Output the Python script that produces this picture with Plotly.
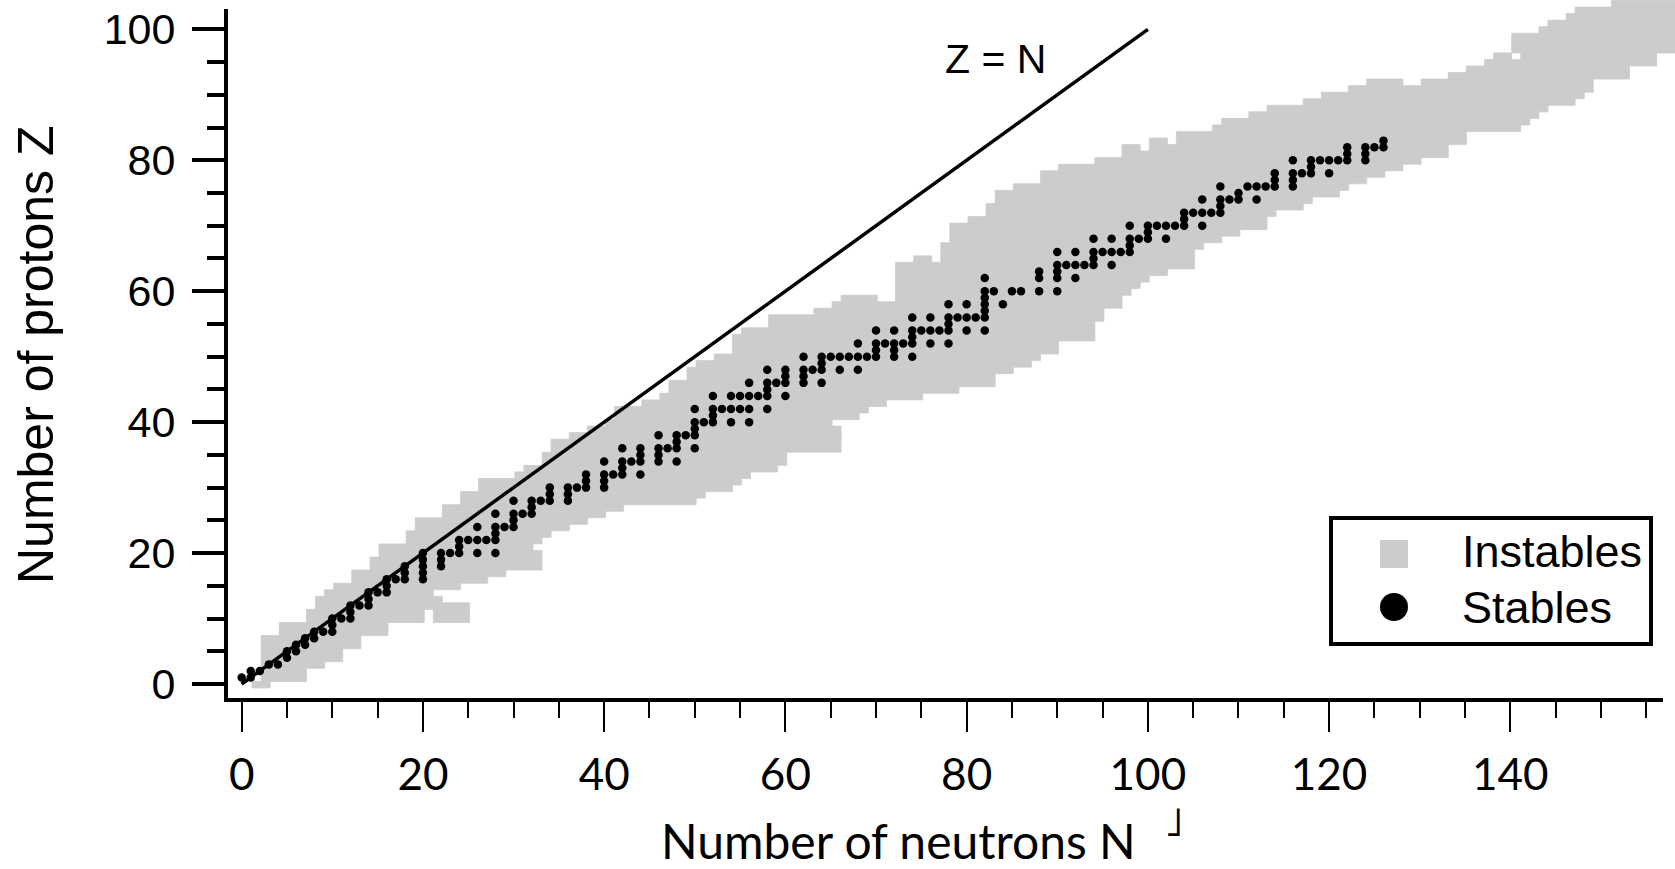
import plotly.graph_objects as go

# ---------------- data ----------------
# Grey band (unstable nuclides): one row per proton number Z,
# left / right edge of the row in neutron number N.
band_Z = list(range(0, 105))
band_N_left = [1, 2, 2, 2, 2, 2, 2, 2, 4, 4,
               7, 7, 8, 8, 9, 10, 12, 12, 14, 14,
               15, 15, 18, 18, 19, 19, 22, 22, 24, 24,
               26, 26, 30, 31, 33, 33, 34, 34, 36, 38,
               40, 41, 41, 44, 46, 47, 47, 49, 49, 50,
               52, 54, 54, 54, 55, 58, 58, 63, 65, 66,
               72, 72, 72, 72, 72, 74, 77, 77, 78, 78,
               78, 80, 82, 82, 83, 83, 85, 88, 88, 90,
               94, 97, 97, 100, 103, 107, 108, 111, 113, 117,
               119, 122, 124, 133, 135, 137, 138, 140, 140, 140,
               143, 144, 146, 147, 151]
band_N_right = [3, 7, 7, 9, 11, 11, 13, 13, 16, 16,
                25, 25, 25, 22, 21, 24, 27, 29, 33, 33,
                33, 32, 33, 34, 36, 38, 40, 42, 50, 51,
                54, 55, 56, 59, 60, 60, 66, 66, 66, 66,
                65, 68, 69, 71, 75, 79, 83, 83, 85, 87,
                88, 90, 90, 94, 94, 94, 95, 95, 97, 97,
                98, 99, 100, 102, 105, 105, 105, 106, 108, 110,
                113, 113, 114, 117, 118, 121, 122, 124, 126, 128,
                130, 133, 133, 135, 135, 141, 142, 143, 144, 147,
                148, 149, 149, 153, 153, 156, 156, 160, 160, 160,
                160, 160, 160, 160, 160]
# White holes inside some rows
gap_Z = [10, 11, 59, 65, 82, 83, 92, 96]
gap_N_from = [20, 20, 70, 76, 99, 102, 128, 140]
gap_N_to = [21, 21, 72, 77, 100, 103, 130, 141]

# Stable nuclides: for each Z, the stable neutron numbers
stable_Z = [1, 2, 3, 4, 5, 6, 7, 8, 9, 10,
            11, 12, 13, 14, 15, 16, 17, 18, 19, 20,
            21, 22, 23, 24, 25, 26, 27, 28, 29, 30,
            31, 32, 33, 34, 35, 36, 37, 38, 39, 40,
            41, 42, 44, 45, 46, 47, 48, 49, 50, 51,
            52, 53, 54, 55, 56, 57, 58, 59, 60, 62,
            63, 64, 65, 66, 67, 68, 69, 70, 71, 72,
            73, 74, 75, 76, 77, 78, 79, 80, 81, 82, 83]
stable_N_lists = [[0, 1], [1, 2], [3, 4], [5], [5, 6], [6, 7], [7, 8], [8, 9, 10], [10], [10, 11, 12],
                  [12], [12, 13, 14], [14], [14, 15, 16], [16], [16, 17, 18, 20], [18, 20], [18, 20, 22], [20, 22], [20, 22, 23, 24, 26, 28],
                  [24], [24, 25, 26, 27, 28], [28], [26, 28, 29, 30], [30], [28, 30, 31, 32], [32], [30, 32, 33, 34, 36], [34, 36], [34, 36, 37, 38, 40],
                  [38, 40], [38, 40, 41, 42, 44], [42], [40, 42, 43, 44, 46, 48], [44, 46], [42, 44, 46, 47, 48, 50], [48], [46, 48, 49, 50], [50], [50, 51, 52, 54, 56],
                  [52], [50, 52, 53, 54, 55, 56, 58], [52, 54, 55, 56, 57, 58, 60], [58], [56, 58, 59, 60, 62, 64], [60, 62], [58, 60, 62, 63, 64, 66, 68], [64], [62, 64, 65, 66, 67, 68, 69, 70, 72, 74], [70, 72],
                  [68, 70, 71, 72, 73, 74, 76, 78], [74], [70, 72, 74, 75, 76, 77, 78, 80, 82], [78], [74, 76, 78, 79, 80, 81, 82], [82], [78, 80, 82, 84], [82], [82, 83, 85, 86, 88, 90], [82, 88, 90, 92],
                  [88, 90], [90, 91, 92, 93, 94, 96], [94], [90, 92, 94, 95, 96, 97, 98], [98], [94, 96, 98, 99, 100, 102], [100], [98, 100, 101, 102, 103, 104, 106], [104], [104, 105, 106, 107, 108],
                  [108], [106, 108, 109, 110, 112], [110], [108, 111, 112, 113, 114, 116], [114, 116], [114, 116, 117, 118, 120], [118], [116, 118, 119, 120, 121, 122, 124], [122, 124], [122, 124, 125, 126], [126]]

# Z = N reference line end points
line_N = [0, 100]
line_Z = [0, 100]

# ---------------- build traces ----------------
CELL_DX = 0.15   # grey cell anchor offset (N)
CELL_DY = -0.10  # grey cell centre offset (Z)

seg_y, seg_base, seg_len = [], [], []
for z, lo, hi in zip(band_Z, band_N_left, band_N_right):
    cuts = sorted((a, b) for gz, a, b in zip(gap_Z, gap_N_from, gap_N_to) if gz == z)
    start = lo
    for a, b in cuts:
        seg_y.append(z + CELL_DY); seg_base.append(start + CELL_DX); seg_len.append(a - start)
        start = b
    seg_y.append(z + CELL_DY); seg_base.append(start + CELL_DX); seg_len.append(hi - start)

st_N, st_Z = [], []
for z, ns in zip(stable_Z, stable_N_lists):
    for n in ns:
        st_N.append(n); st_Z.append(z)

fig = go.Figure()
fig.add_trace(go.Bar(orientation='h', y=seg_y, x=seg_len, base=seg_base, width=1.0,
                     marker=dict(color='#cccccc', line=dict(color='#cccccc', width=0.8)),
                     showlegend=False, hoverinfo='skip'))
fig.add_trace(go.Scatter(x=line_N, y=line_Z, mode='lines', line=dict(color='black', width=3.5),
                         showlegend=False, hoverinfo='skip'))
fig.add_trace(go.Scatter(x=st_N, y=st_Z, mode='markers', marker=dict(color='black', size=8.5),
                         showlegend=False, hoverinfo='skip'))

W, H = 1675, 869
L, R, T, B = 226, 0, 0, 169
PW, PH = W - L - R, H - T - B

def px(xp):
    return (xp - L) / PW

def py(yp):
    return (T + PH - yp) / PH

ARIAL = 'Liberation Sans, Arial, sans-serif'
CAL = 'Lato, Calibri, sans-serif'

fig.update_layout(
    width=W, height=H, margin=dict(l=L, r=R, t=T, b=B, autoexpand=False),
    plot_bgcolor='white', paper_bgcolor='white', barmode='overlay', showlegend=False,
    xaxis=dict(range=[-1.73, 158.17], showgrid=False, zeroline=False, showline=False,
               ticks='outside', tickmode='linear', tick0=0, dtick=20, ticklen=31, tickwidth=2,
               tickcolor='black', tickfont=dict(family=CAL, size=44, color='black'),
               ticklabelstandoff=5,
               minor=dict(ticks='outside', tickmode='linear', tick0=0, dtick=5, ticklen=17,
                          tickwidth=2, tickcolor='black')),
    yaxis=dict(range=[-2.44, 104.48], showgrid=False, zeroline=False, showline=False,
               ticks='outside', tickmode='linear', tick0=0, dtick=20, ticklen=33, tickwidth=4,
               tickcolor='black', tickfont=dict(family=ARIAL, size=43, color='black'),
               ticklabelstandoff=8,
               minor=dict(ticks='outside', tickmode='linear', tick0=0, dtick=5, ticklen=18,
                          tickwidth=4, tickcolor='black')),
)

shapes = [
    dict(type='line', xref='paper', yref='paper', x0=0, x1=0, y0=py(702), y1=py(9),
         line=dict(color='black', width=4)),
    dict(type='line', xref='paper', yref='paper', x0=px(224), x1=px(1663), y0=0, y1=0,
         line=dict(color='black', width=4)),
    # legend box
    dict(type='rect', xref='paper', yref='paper', x0=px(1331), x1=px(1651), y0=py(644), y1=py(518),
         line=dict(color='black', width=4), fillcolor='white'),
    dict(type='rect', xref='paper', yref='paper', x0=px(1380), x1=px(1408), y0=py(568), y1=py(540),
         line=dict(width=0), fillcolor='#cccccc'),
    dict(type='circle', xref='paper', yref='paper', x0=px(1380), x1=px(1408), y0=py(621), y1=py(593),
         line=dict(width=0), fillcolor='black'),
]
fig.update_layout(shapes=shapes)

annotations = [
    dict(text='Z = N', x=83.2, y=95.5, xref='x', yref='y', showarrow=False,
         xanchor='center', yanchor='middle',
         font=dict(family=ARIAL, size=41, color='black')),
    dict(text='Number of protons Z', x=px(36), y=py(355), xref='paper', yref='paper',
         xanchor='center', yanchor='middle',
         showarrow=False, textangle=-90, font=dict(family=ARIAL, size=50, color='black')),
    dict(text='Number of neutrons N', x=px(898), y=py(840), xref='paper', yref='paper',
         xanchor='center', yanchor='middle',
         showarrow=False, font=dict(family=CAL, size=48, color='black')),
    dict(text='\u02e9', x=px(1174), y=py(822), xref='paper', yref='paper',
         xanchor='center', yanchor='middle',
         showarrow=False, font=dict(family='DejaVu Sans', size=40, color='black')),
    dict(text='Instables', x=px(1460), y=py(551), xref='paper', yref='paper', xanchor='left',
         yanchor='middle',
         showarrow=False, font=dict(family=ARIAL, size=45, color='black')),
    dict(text='Stables', x=px(1460), y=py(607), xref='paper', yref='paper', xanchor='left',
         yanchor='middle',
         showarrow=False, font=dict(family=ARIAL, size=45, color='black')),
]
fig.update_layout(annotations=annotations)

fig.write_html('out.html', config={'displayModeBar': False},
               post_script="document.body.style.margin='0';document.body.style.overflow='hidden';")
